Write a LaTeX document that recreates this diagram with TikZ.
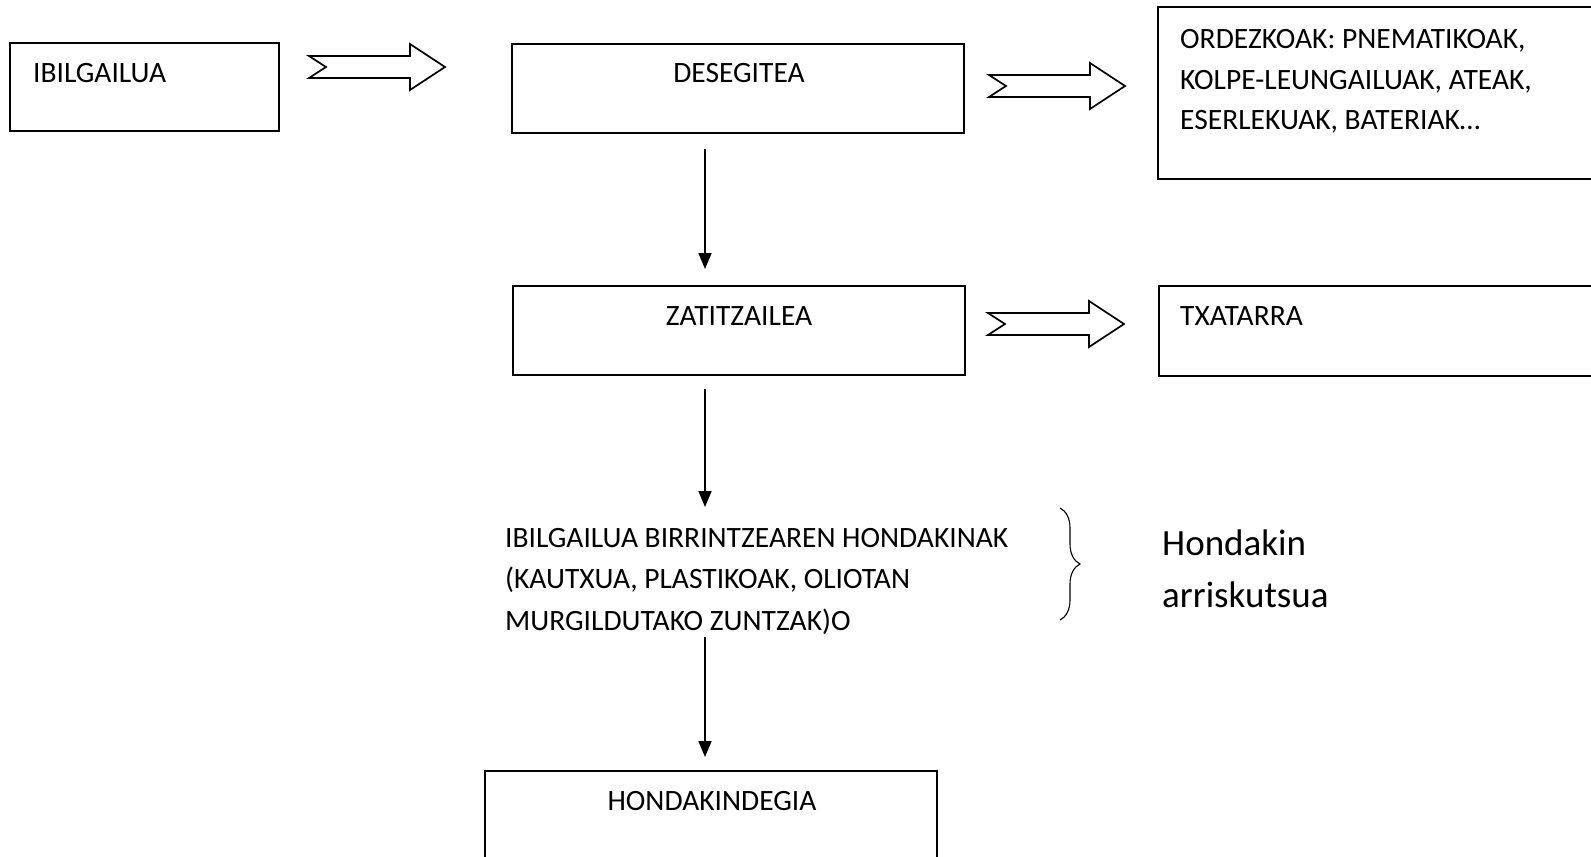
\documentclass[tikz,border=0pt]{standalone}
\usepackage{fontspec}
\setmainfont{Carlito}
\usetikzlibrary{arrows.meta,decorations.pathreplacing}
\tikzset{
  boxline/.style={draw=black,line width=1.7pt,inner sep=0pt,fill=none},
  txt/.style={inner sep=0pt,font=\fontsize{29.5}{40}\selectfont},
  bigtxt/.style={inner sep=0pt,font=\fontsize{37}{52}\selectfont},
  downarr/.style={line width=1.7pt,-{Triangle[width=13pt,length=16pt]}},
  blockarr/.style={draw=black,line width=1.7pt,line join=miter,fill=white},
  bracestyle/.style={line width=1.1pt,decorate,decoration={brace,amplitude=20pt,aspect=0.5}}
}
\newcommand\myblockarrow[3]{% name, x0, yc
  \draw[blockarr] (#2,#3-11) -- (#2+101,#3-11) -- (#2+101,#3-23) -- (#2+136,#3)
    -- (#2+101,#3+23) -- (#2+101,#3+11) -- (#2,#3+11) -- (#2+17,#3) -- cycle;
  \coordinate (#1) at (#2,#3);
}
\begin{document}
\begin{tikzpicture}[x=1pt,y=-1pt]
\useasboundingbox (0,0) rectangle (1591,857);
% boxes
\draw[boxline] (10,43) rectangle (279,131);
\node[txt,anchor=base west] (ibil) at (33,82) {IBILGAILUA};

\draw[boxline] (512,44) rectangle (964,133);
\node[txt,anchor=base] (deseg) at (739,82) {DESEGITEA};

\draw[boxline] (1158,7) rectangle (1600,179);
\node[txt,anchor=base west] (ord1) at (1180,48) {ORDEZKOAK: PNEMATIKOAK,};
\node[txt,anchor=base west] (ord2) at (1180,89) {KOLPE-LEUNGAILUAK, ATEAK,};
\node[txt,anchor=base west] (ord3) at (1180,129) {ESERLEKUAK, BATERIAK…};

\draw[boxline] (513,286) rectangle (965,375);
\node[txt,anchor=base] (zati) at (739,325) {ZATITZAILEA};

\draw[boxline] (1159,286) rectangle (1600,376);
\node[txt,anchor=base west] (txat) at (1180,325) {TXATARRA};

\node[txt,anchor=base west] (hl1) at (505,547) {IBILGAILUA BIRRINTZEAREN HONDAKINAK};
\node[txt,anchor=base west] (hl2) at (505,588) {(KAUTXUA, PLASTIKOAK, OLIOTAN};
\node[txt,anchor=base west] (hl3) at (505,630) {MURGILDUTAKO ZUNTZAK)O};

\draw[boxline] (485,771) rectangle (937,870);
\node[txt,anchor=base] (hond) at (712,810) {HONDAKINDEGIA};

\node[bigtxt,anchor=base west] (arr1) at (1162,555) {Hondakin};
\node[bigtxt,anchor=base west] (arr2) at (1162,607) {arriskutsua};

% block arrows
\myblockarrow{ba1}{309}{67}
\myblockarrow{ba2}{989}{86}
\myblockarrow{ba3}{988}{324}

% down arrows
\coordinate (d1s) at (705,149); \coordinate (d1e) at (705,269);
\coordinate (d2s) at (705,389); \coordinate (d2e) at (705,507);
\coordinate (d3s) at (705,637); \coordinate (d3e) at (705,757);
\draw[downarr] (d1s) -- (d1e);
\draw[downarr] (d2s) -- (d2e);
\draw[downarr] (d3s) -- (d3e);

% brace
\coordinate (brt) at (1060,508); \coordinate (brb) at (1060,620);
\draw[bracestyle] (brt) -- (brb);
\end{tikzpicture}
\end{document}
